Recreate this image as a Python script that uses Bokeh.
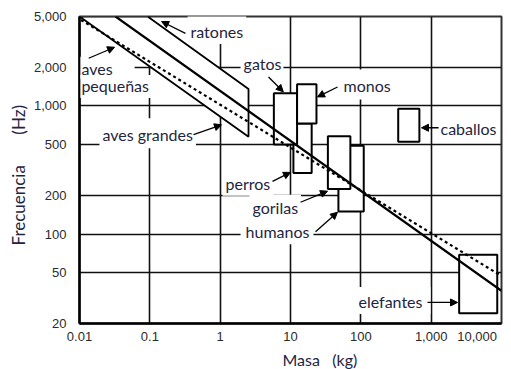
from bokeh.embed import file_html
from bokeh.models import Arrow, FixedTicker, Label, NormalHead, NumeralTickFormatter, Range1d, Title
from bokeh.plotting import figure
from bokeh.resources import INLINE

# ---- data -------------------------------------------------------------
# axis ticks (mass in kg, frequency in Hz)
mass_ticks = [0.01, 0.1, 1, 10, 100, 1000, 10000]
freq_ticks = [20, 50, 100, 200, 500, 1000, 2000, 5000]

# hearing-range boxes per animal group
groups = ["perros", "gatos", "monos", "humanos", "gorilas", "caballos", "elefantes"]
mass_min = [11, 5.8, 12.4, 48, 34, 340, 2500]
mass_max = [20, 12.4, 23.4, 110, 71, 680, 8700]
freq_min = [300, 500, 730, 150, 225, 525, 24]
freq_max = [730, 1260, 1480, 490, 580, 950, 69]

# band covering birds and mice (corner points)
band_mass = [0.01, 2.53, 2.53, 0.093]
band_freq = [5000, 575, 1358, 5000]

# scaling lines: solid fit and dotted M^-1/3 line
fit_mass = [0.0325, 10000]
fit_freq = [5000, 36]
cube_mass = [0.0105, 10000]
cube_freq = [4700, 47]

NBSP = "\u00a0"

# ---- figure -----------------------------------------------------------
p = figure(
    width=511, height=369,
    x_axis_type="log", y_axis_type="log",
    x_range=Range1d(0.01, 10000), y_range=Range1d(20, 5000),
    output_backend="svg", toolbar_location=None,
    min_border_left=79, min_border_right=10,
    min_border_top=16, min_border_bottom=44,
    background_fill_color="white", border_fill_color="white",
)

p.outline_line_color = "#333333"
p.outline_line_width = 2

tick_font = "Liberation Sans"
label_font = "Lato"
label_color = "#1f2540"

for ax in (p.xaxis[0], p.yaxis[0]):
    ax.axis_line_color = "black"
    ax.axis_line_width = 2.5
    ax.major_tick_line_color = None
    ax.minor_tick_line_color = None
    ax.major_tick_in = 0
    ax.major_tick_out = 0
    ax.major_label_text_font = tick_font
    ax.major_label_text_font_size = "13px"
    ax.major_label_text_color = "#2a2a2a"
    ax.formatter = NumeralTickFormatter(format="0,0.[00]")

p.xaxis.ticker = FixedTicker(ticks=mass_ticks)
p.yaxis.ticker = FixedTicker(ticks=freq_ticks)
p.xaxis.major_label_standoff = 5
p.yaxis.major_label_standoff = 13
# the last mass label sits at the right edge; pad it so it stays on the canvas
p.xaxis.major_label_overrides = {10000: "10,000" + NBSP * 4}

p.xgrid.ticker = FixedTicker(ticks=mass_ticks)
p.ygrid.ticker = FixedTicker(ticks=freq_ticks)
for g in (p.xgrid[0], p.ygrid[0]):
    g.grid_line_color = "#111111"
    g.grid_line_width = 1.6
    g.grid_line_alpha = 1.0

# axis titles
p.add_layout(Title(
    text="Masa" + NBSP * 3 + "(kg)", align="left", offset=203, standoff=2,
    text_font=label_font, text_font_size="16px", text_font_style="normal",
    text_color=label_color,
), "below")
p.add_layout(Title(
    text="Frecuencia" + NBSP * 7 + "(Hz)", align="left", offset=78, standoff=4,
    text_font=label_font, text_font_size="17px", text_font_style="normal",
    text_color=label_color,
), "left")

# bird / mouse band
p.patch(band_mass, band_freq, fill_color="white", line_color="black", line_width=1.8)

# animal boxes
p.quad(left=mass_min, right=mass_max, bottom=freq_min, top=freq_max,
       fill_color="white", line_color="black", line_width=2)

# scaling lines
p.line(cube_mass, cube_freq, line_color="black", line_width=2.2, line_dash="3 3")
p.line(fit_mass, fit_freq, line_color="black", line_width=2.2)

# ---- labels -----------------------------------------------------------
def pad(left=3, right=3, top=3, bottom=3):
    return dict(left=left, right=right, top=top, bottom=bottom)

labels = [
    ("ratones", 0.344, 4000, pad(top=8)),
    ("aves", 0.0103, 1993, pad(left=1, right=22, top=2, bottom=1)),
    ("pequeñas", 0.0103, 1419, pad(left=1, top=1, bottom=3)),
    ("aves grandes", 0.0192, 612, pad(top=7, bottom=4)),
    ("gatos", 1.95, 2158, pad(left=3, right=2)),
    ("monos", 49.8, 1472, pad(left=4, right=4, top=7, bottom=4)),
    ("caballos", 1230, 664, pad()),
    ("perros", 1.08, 249, pad()),
    ("gorilas", 2.61, 162, pad()),
    ("humanos", 1.95, 104, pad(left=5, right=4)),
    ("elefantes", 84, 30.2, pad(left=3, right=8, top=5, bottom=3)),
]
for text, mx, fy, padding in labels:
    p.add_layout(Label(
        x=mx, y=fy, text=text,
        text_align="left", text_baseline="middle",
        text_font=label_font, text_font_size="16px", text_color=label_color,
        background_fill_color="white", padding=padding,
    ))

# arrows pointing from labels to their regions
arrows = [
    (0.321, 3690, 0.147, 4571),
    (0.0135, 2360, 0.0315, 2877),
    (0.418, 597, 1.045, 713),
    (4.87, 1682, 7.9, 1290),
    (46.6, 1406, 24.2, 1178),
    (1274, 676, 729, 676),
    (5.55, 258, 10.0, 303),
    (13.9, 177, 33.6, 216),
    (22.7, 104, 46.6, 148),
    (887, 29.2, 2371, 29.2),
]
for x0, y0, x1, y1 in arrows:
    p.add_layout(Arrow(
        x_start=x0, y_start=y0, x_end=x1, y_end=y1,
        line_color="black", line_width=1.3,
        end=NormalHead(size=7, line_color="black", fill_color="black", line_width=1),
    ))

open("out.html", "w").write(file_html(p, INLINE))
